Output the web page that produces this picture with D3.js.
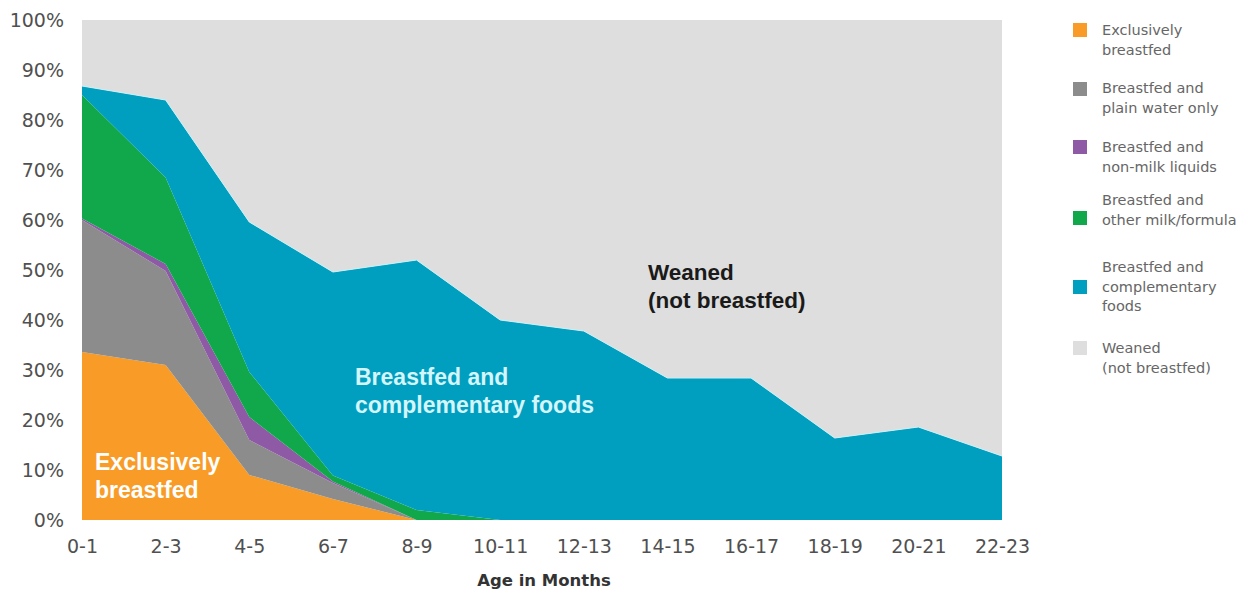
<!DOCTYPE html>
<html>
<head>
<meta charset="utf-8">
<script src="https://cdn.jsdelivr.net/npm/d3@7/dist/d3.min.js"></script>
<style>
  html, body { margin: 0; padding: 0; background: #ffffff; }
  svg { display: block; }
  text { font-family: "Liberation Sans", Arial, sans-serif; }
</style>
</head>
<body>
<svg id="chart" width="1250" height="593"></svg>
<script>
// ---- Data (percent of children, by age group) ----
const categories = ["0-1","2-3","4-5","6-7","8-9","10-11","12-13","14-15","16-17","18-19","20-21","22-23"];
const exclusivelyBreastfed   = [33.6, 31.0,  9.0,  4.2, 0,    0,    0,    0,    0,    0,    0,    0];
const plainWaterOnly         = [26.4, 18.8,  7.0,  3.2, 0,    0,    0,    0,    0,    0,    0,    0];
const nonMilkLiquids         = [ 0.3,  1.4,  4.6,  0.3, 0,    0,    0,    0,    0,    0,    0,    0];
const otherMilkFormula       = [24.7, 17.3,  9.0,  1.2, 2.0,  0,    0,    0,    0,    0,    0,    0];
const complementaryFoods     = [ 1.8, 15.5, 30.0, 40.7, 50.0, 40.0, 37.8, 28.4, 28.4, 16.4, 18.6, 12.8];
const weaned                 = [13.2, 16.0, 40.4, 50.4, 48.0, 60.0, 62.2, 71.6, 71.6, 83.6, 81.4, 87.2];
const yTicks = [0,10,20,30,40,50,60,70,80,90,100];

const seriesKeys   = ["excl","water","nonmilk","milk","comp","weaned"];
const seriesValues = [exclusivelyBreastfed, plainWaterOnly, nonMilkLiquids, otherMilkFormula, complementaryFoods, weaned];
const seriesColors = ["#f89c27","#8c8c8c","#8f5aa5","#11a84c","#009fc0","#dedede"];
const legendLabels = [
  ["Exclusively","breastfed"],
  ["Breastfed and","plain water only"],
  ["Breastfed and","non-milk liquids"],
  ["Breastfed and","other milk/formula"],
  ["Breastfed and","complementary","foods"],
  ["Weaned","(not breastfed)"]
];

// table built from arrays
const table = categories.map((c,i) => {
  const row = {cat: c};
  seriesKeys.forEach((k,j) => row[k] = seriesValues[j][i]);
  return row;
});

const svg = d3.select("#chart");
const plotLeft = 82, plotRight = 1002, plotTop = 20, plotBottom = 520;

const x = d3.scalePoint().domain(categories).range([plotLeft, plotRight]);
const y = d3.scaleLinear().domain([0,100]).range([plotBottom, plotTop]);

const stack = d3.stack().keys(seriesKeys);
const layers = stack(table);

const area = d3.area()
  .x(d => x(d.data.cat))
  .y0(d => y(d[0]))
  .y1(d => y(d[1]))
  .curve(d3.curveLinear);

svg.append("g").selectAll("path")
  .data(layers)
  .join("path")
  .attr("d", area)
  .attr("fill", (d,i) => seriesColors[i]);

// thin light edge on top of the complementary-foods layer
const topLine = d3.line()
  .x(d => x(d.data.cat))
  .y(d => y(d[1]));
svg.append("path")
  .attr("d", topLine(layers[4]))
  .attr("fill", "none")
  .attr("stroke", "#c8f0f6")
  .attr("stroke-width", 1);

const axisFont = "'DejaVu Sans', Verdana, sans-serif";

// axes
const yAxis = d3.axisLeft(y).tickValues(yTicks).tickSize(0).tickPadding(18).tickFormat(d => d + "%");
const gy = svg.append("g").attr("transform", `translate(${plotLeft},0)`).call(yAxis);
gy.select(".domain").remove();
gy.selectAll("text").attr("font-size", 19).attr("fill", "#505050")
  .style("font-family", axisFont);

const xAxis = d3.axisBottom(x).tickSize(0).tickPadding(20);
const gx = svg.append("g").attr("transform", `translate(0,${plotBottom})`).call(xAxis);
gx.select(".domain").remove();
gx.selectAll("text").attr("font-size", 19).attr("fill", "#505050")
  .style("font-family", axisFont);

svg.append("text")
  .attr("x", 544).attr("y", 586)
  .attr("text-anchor", "middle")
  .style("font-family", axisFont)
  .attr("font-size", 16.5).attr("font-weight", "bold").attr("fill", "#333")
  .text("Age in Months");

// in-chart labels
function multiline(xp, yp, lines, size, color, lh) {
  const t = svg.append("text")
    .attr("x", xp).attr("y", yp)
    .attr("font-size", size).attr("font-weight", "bold").attr("fill", color);
  lines.forEach((l,i) => t.append("tspan").attr("x", xp).attr("dy", i === 0 ? 0 : lh).text(l));
}
multiline(95, 470, ["Exclusively","breastfed"], 23, "#ffffff", 28);
multiline(355, 385, ["Breastfed and","complementary foods"], 23, "#d4f5fa", 28);
multiline(648, 280, ["Weaned","(not breastfed)"], 22.5, "#1a1a1a", 28);

// legend
const legendSwatchY = [30, 89, 147, 218, 287, 348];
const legendTextY   = [30, 88, 147, 200, 267, 348];
const lg = svg.append("g");
legendLabels.forEach((lines, i) => {
  lg.append("rect")
    .attr("x", 1073).attr("y", legendSwatchY[i] - 7)
    .attr("width", 14).attr("height", 14)
    .attr("fill", seriesColors[i]);
  const t = lg.append("text")
    .attr("x", 1102).attr("y", legendTextY[i] + 5)
    .style("font-family", axisFont)
    .attr("font-size", 14.5).attr("fill", "#666");
  lines.forEach((l, k) => t.append("tspan").attr("x", 1102).attr("dy", k === 0 ? 0 : 19.5).text(l));
});
</script>
</body>
</html>
